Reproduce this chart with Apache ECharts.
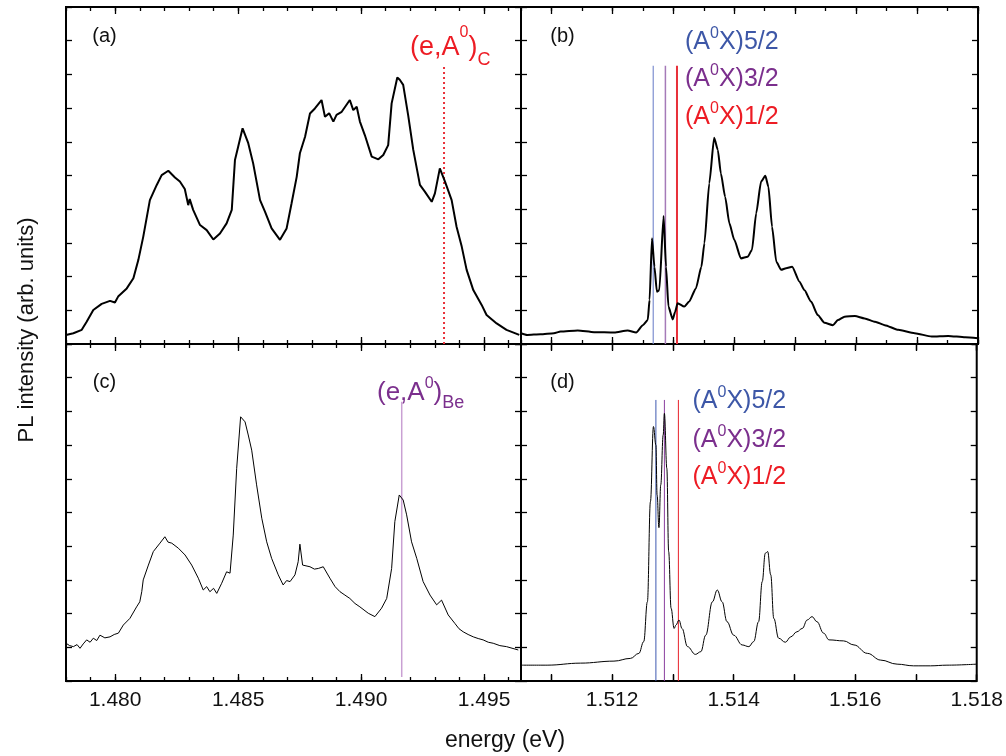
<!DOCTYPE html>
<html><head><meta charset="utf-8">
<script src="https://cdn.jsdelivr.net/npm/echarts@6/dist/echarts.min.js"></script>
<style>html,body{margin:0;padding:0;background:#fff}#c{width:1006px;height:756px}</style>
</head><body><div id="c"></div>
<script>
// ---------- data ----------
const aEnergy = [1.47800,1.47830,1.47864,1.47884,1.47911,1.47945,1.47979,1.47999,1.48013,1.48047,1.48074,1.48094,1.48114,1.48141,1.48169,1.48189,1.48216,1.48243,1.48263,1.48283,1.48297,1.48303,1.48317,1.48345,1.48372,1.48399,1.48426,1.48453,1.48474,1.48487,1.48500,1.48518,1.48541,1.48561,1.48589,1.48609,1.48636,1.48670,1.48697,1.48717,1.48738,1.48751,1.48772,1.48792,1.48812,1.48839,1.48853,1.48870,1.48887,1.48900,1.48921,1.48954,1.48968,1.48982,1.48995,1.49015,1.49043,1.49070,1.49090,1.49110,1.49124,1.49147,1.49157,1.49171,1.49191,1.49212,1.49239,1.49259,1.49287,1.49300,1.49320,1.49341,1.49368,1.49388,1.49409,1.49429,1.49456,1.49490,1.49510,1.49551,1.49591,1.49643];
const aIntensity = [0.27,0.32,0.42,0.66,1.01,1.19,1.28,1.23,1.42,1.65,1.95,2.49,3.18,4.27,4.72,5.01,5.14,4.94,4.82,4.60,4.12,4.30,3.98,3.53,3.38,3.10,3.28,3.58,3.98,5.46,5.85,6.40,5.96,5.36,4.27,3.93,3.43,3.09,3.43,4.17,4.96,5.66,6.15,6.84,6.99,7.24,6.74,6.85,6.60,6.80,6.89,7.24,6.94,7.04,6.60,6.20,5.56,5.48,5.61,5.90,7.14,7.91,7.84,7.69,6.80,5.76,4.72,4.52,4.22,4.47,5.21,4.82,4.27,3.48,2.89,2.20,1.60,1.16,0.86,0.61,0.42,0.27];

const bEnergy = [1.51050,1.51060,1.51082,1.51104,1.51115,1.51143,1.51170,1.51203,1.51225,1.51239,1.51250,1.51258,1.51261,1.51265,1.51269,1.51273,1.51277,1.51284,1.51288,1.51292,1.51299,1.51303,1.51307,1.51318,1.51326,1.51337,1.51346,1.51351,1.51359,1.51367,1.51373,1.51378,1.51385,1.51392,1.51400,1.51411,1.51422,1.51429,1.51436,1.51444,1.51451,1.51456,1.51462,1.51469,1.51477,1.51485,1.51495,1.51507,1.51515,1.51526,1.51537,1.51548,1.51562,1.51570,1.51581,1.51598,1.51614,1.51631,1.51647,1.51669,1.51696,1.51724,1.51751,1.51779,1.51800];
const bIntensity = [0.32,0.27,0.29,0.32,0.37,0.40,0.35,0.34,0.40,0.34,0.56,0.71,1.31,3.14,2.29,1.55,1.60,3.80,2.29,1.11,0.73,0.96,1.21,1.11,1.26,1.65,2.29,2.99,4.77,6.12,5.76,5.06,4.37,3.58,3.09,2.54,2.59,2.79,3.88,4.82,4.99,4.67,3.48,2.44,2.20,2.25,2.29,1.85,1.60,1.26,0.86,0.63,0.56,0.71,0.81,0.83,0.76,0.66,0.56,0.42,0.32,0.22,0.24,0.20,0.17];

const cEnergy = [1.47800,1.47815,1.47830,1.47845,1.47857,1.47870,1.47884,1.47898,1.47911,1.47925,1.47938,1.47958,1.47979,1.47996,1.48013,1.48033,1.48060,1.48087,1.48100,1.48108,1.48114,1.48135,1.48155,1.48182,1.48202,1.48215,1.48230,1.48257,1.48284,1.48311,1.48338,1.48358,1.48372,1.48385,1.48400,1.48413,1.48433,1.48453,1.48467,1.48480,1.48494,1.48510,1.48528,1.48541,1.48555,1.48575,1.48596,1.48616,1.48636,1.48663,1.48683,1.48697,1.48711,1.48731,1.48744,1.48751,1.48762,1.48792,1.48810,1.48826,1.48846,1.48873,1.48894,1.48914,1.48934,1.48954,1.48975,1.48995,1.49029,1.49056,1.49083,1.49104,1.49124,1.49137,1.49155,1.49171,1.49185,1.49205,1.49226,1.49252,1.49280,1.49307,1.49327,1.49354,1.49381,1.49398,1.49415,1.49435,1.49456,1.49476,1.49496,1.49517,1.49537,1.49564,1.49591,1.49639];
const cIntensity = [1.12,1.05,1.02,1.08,0.97,1.10,1.22,1.15,1.27,1.20,1.36,1.28,1.31,1.38,1.42,1.66,1.86,2.20,2.35,2.65,3.00,3.44,3.84,4.09,4.28,4.12,4.09,3.94,3.74,3.44,3.05,2.70,2.80,2.65,2.75,2.60,2.90,3.24,3.20,4.33,6.31,7.84,7.69,7.30,6.85,5.82,4.83,4.13,3.64,3.15,2.85,2.98,2.95,3.15,3.54,4.06,3.44,3.39,3.32,3.34,3.39,3.05,2.80,2.65,2.55,2.45,2.30,2.20,2.01,1.91,2.16,2.45,3.34,4.73,5.52,5.37,4.93,4.13,3.64,2.95,2.55,2.26,2.40,1.96,1.71,1.55,1.46,1.38,1.31,1.26,1.22,1.15,1.12,1.05,1.02,0.92];

const dEnergy = [1.51050,1.51093,1.51148,1.51203,1.51230,1.51244,1.51252,1.51258,1.51263,1.51268,1.51272,1.51274,1.51277,1.51280,1.51284,1.51286,1.51290,1.51293,1.51297,1.51302,1.51305,1.51310,1.51315,1.51324,1.51337,1.51346,1.51354,1.51365,1.51373,1.51381,1.51389,1.51400,1.51414,1.51425,1.51433,1.51441,1.51447,1.51452,1.51456,1.51461,1.51466,1.51474,1.51485,1.51494,1.51504,1.51513,1.51521,1.51529,1.51537,1.51548,1.51557,1.51581,1.51598,1.51620,1.51642,1.51669,1.51696,1.51724,1.51751,1.51800];
const dIntensity = [0.47,0.47,0.53,0.59,0.67,0.82,1.17,2.35,5.32,7.55,7.00,5.52,4.55,5.82,7.30,7.94,6.31,3.84,2.16,1.56,1.66,1.81,1.56,1.02,0.79,0.87,1.36,2.35,2.70,2.35,1.76,1.36,1.07,1.02,1.17,1.76,2.95,3.79,3.84,3.15,1.86,1.27,1.15,1.31,1.46,1.56,1.81,1.91,1.76,1.42,1.22,1.19,1.07,0.82,0.62,0.50,0.45,0.45,0.47,0.50];

// marker lines
const aCarbonEnergy = 1.49337, aCarbonTop = 8.23;
const cBerylliumEnergy = 1.49165, cBerylliumTop = 8.29, cBerylliumBottom = 0.12;
const bLineEnergies = [1.51267, 1.51287, 1.51306], bLineTop = 8.26;
const dLineEnergies = [1.51272, 1.51286, 1.51309], dLineTop = 8.34;
const lineLabels = ['5/2', '3/2', '1/2'];

// axes
const leftRange = [1.478, 1.4965];
const rightRange = [1.5105, 1.518];
const leftTickLabels = [1.480, 1.485, 1.490, 1.495];
const rightTickLabels = [1.512, 1.514, 1.516, 1.518];
const yRange = [0, 10];

// ---------- build ----------
const FONT = '"Liberation Sans", Arial, Helvetica, sans-serif';
function steps(a, b, s) {
  const out = []; const n = Math.round((b - a) / s);
  for (let k = 0; k <= n; k++) out.push(Math.round((a + k * s) * 1e6) / 1e6);
  return out;
}
const leftMinor = steps(1.478, 1.496, 0.001);
const leftMajor = steps(1.480, 1.495, 0.005);
const bMinor = steps(1.5105, 1.518, 0.0005);
const bMajor = steps(1.511, 1.518, 0.001);
const dTicks = steps(1.511, 1.518, 0.001);

const grids = [
  {left: 66, top: 7, width: 455, height: 337},
  {left: 521, top: 7, width: 457, height: 337},
  {left: 66, top: 344, width: 455, height: 337},
  {left: 521, top: 344, width: 457, height: 337}
].map(g => Object.assign(g, {show: true, borderColor: '#000', borderWidth: 2, backgroundColor: 'transparent'}));

const xAxes = [];
const yAxes = [];
const mainX = [], mainY = [];
function xAx(g, range, pos, ticks, len, labels) {
  xAxes.push({
    type: 'value', gridIndex: g, min: range[0], max: range[1], position: pos,
    axisLine: {show: false}, splitLine: {show: false},
    axisTick: {show: true, inside: true, length: len, customValues: ticks, lineStyle: {color: '#000', width: 1.3}},
    axisLabel: labels ? {show: true, customValues: labels, formatter: v => v.toFixed(3), fontSize: 21, color: '#111', margin: 9, fontFamily: FONT} : {show: false}
  });
  return xAxes.length - 1;
}
function yAx(g, pos) {
  yAxes.push({
    type: 'value', gridIndex: g, min: yRange[0], max: yRange[1], interval: 1, position: pos,
    axisLine: {show: false}, splitLine: {show: false}, axisLabel: {show: false},
    axisTick: {show: true, inside: true, length: 6, lineStyle: {color: '#000', width: 1.3}}
  });
  return yAxes.length - 1;
}
const panelCfg = [
  {range: leftRange, minor: leftMinor, major: leftMajor, labels: null},
  {range: rightRange, minor: bMinor, major: bMajor, labels: null},
  {range: leftRange, minor: leftMinor, major: leftMajor, labels: leftTickLabels},
  {range: rightRange, minor: dTicks, major: dTicks, labels: rightTickLabels}
];
panelCfg.forEach((p, g) => {
  const minorLen = g === 3 ? 6 : 4;
  mainX[g] = xAx(g, p.range, 'bottom', p.major, 7, p.labels);
  xAx(g, p.range, 'bottom', p.minor, minorLen, null);
  xAx(g, p.range, 'top', p.major, 7, null);
  xAx(g, p.range, 'top', p.minor, minorLen, null);
  mainY[g] = yAx(g, 'left');
  yAx(g, 'right');
});

function zip(xs, ys) { return xs.map((x, i) => [x, ys[i]]); }
function curve(g, xs, ys, w, smooth) {
  return {type: 'line', xAxisIndex: mainX[g], yAxisIndex: mainY[g], data: zip(xs, ys),
    showSymbol: false, symbol: 'none', smooth: smooth || false, smoothMonotone: 'x', clip: true, z: 3,
    lineStyle: {color: '#000', width: w}, silent: true};
}
function vline(g, e, y0, y1, color, w, type) {
  return {type: 'line', xAxisIndex: mainX[g], yAxisIndex: mainY[g], data: [[e, y0], [e, y1]],
    showSymbol: false, symbol: 'none', z: 2, silent: true,
    lineStyle: {color: color, width: w, type: type || 'solid'}};
}

const series = [
  vline(0, aCarbonEnergy, 0, aCarbonTop, '#e8323a', 2, [2, 3]),
  curve(0, aEnergy, aIntensity, 2),
  vline(1, bLineEnergies[0], 0, bLineTop, '#7d8fd0', 1.2),
  vline(1, bLineEnergies[1], 0, bLineTop, '#a57ab8', 1.5),
  vline(1, bLineEnergies[2], 0, bLineTop, '#e8303a', 2),
  curve(1, bEnergy, bIntensity, 2, 0.2),
  vline(2, cBerylliumEnergy, cBerylliumBottom, cBerylliumTop, '#c9a0d3', 1.5),
  curve(2, cEnergy, cIntensity, 1),
  vline(3, dLineEnergies[0], 0, dLineTop, '#3f5ab0', 1),
  vline(3, dLineEnergies[1], 0, dLineTop, '#8a3f9e', 1),
  vline(3, dLineEnergies[2], 0, dLineTop, '#e8202a', 1),
  curve(3, dEnergy, dIntensity, 1, 0.4)
];

// ---------- texts ----------
function richLabel(x, y, parts, color, size, supPad, subPad) {
  let txt = '{m|' + parts[0] + '}{p|' + parts[1] + '}{m|' + parts[2] + '}';
  if (parts[3]) txt += '{b|' + parts[3] + '}';
  return {type: 'text', x: x, y: y, z: 100, silent: true,
    style: {text: txt, textAlign: 'left', textVerticalAlign: 'middle', fontFamily: FONT,
      rich: {
        m: {fontSize: size, fill: color, color: color, fontFamily: FONT, lineHeight: size + 4},
        p: {fontSize: 16, fill: color, color: color, fontFamily: FONT, lineHeight: 16, padding: [0, 0, supPad, 0]},
        b: {fontSize: 18, fill: color, color: color, fontFamily: FONT, lineHeight: 18, padding: [subPad, 0, 0, 0]}
      }}};
}
function plain(x, y, t, size, rot) {
  return {type: 'text', x: x, y: y, rotation: rot || 0, z: 100, silent: true,
    style: {text: t, fill: '#111', fontSize: size, fontFamily: FONT, textAlign: 'center', textVerticalAlign: 'middle'}};
}
const BLUE = '#3d57a7', PURPLE = '#7b2f8d', RED = '#ed1c24';
const graphics = [
  plain(104.5, 36.5, '(a)', 20), plain(562.5, 36.5, '(b)', 20),
  plain(104.5, 382.5, '(c)', 20), plain(562.5, 382.5, '(d)', 20),
  plain(27, 330, 'PL intensity (arb. units)', 22, Math.PI / 2),
  plain(505, 741, 'energy (eV)', 23),
  richLabel(410, 47.5, ['(e,A', '0', ')', 'C'], RED, 27, 30, 25),
  richLabel(377, 392.5, ['(e,A', '0', ')', 'Be'], PURPLE, 26, 17, 22),
  richLabel(685, 42.5, ['(A', '0', 'X)' + lineLabels[0], ''], BLUE, 25, 17, 0),
  richLabel(685, 79, ['(A', '0', 'X)' + lineLabels[1], ''], PURPLE, 25, 17, 0),
  richLabel(685, 117.5, ['(A', '0', 'X)' + lineLabels[2], ''], RED, 25, 17, 0),
  richLabel(692.5, 401, ['(A', '0', 'X)' + lineLabels[0], ''], BLUE, 25, 17, 0),
  richLabel(692.5, 440, ['(A', '0', 'X)' + lineLabels[1], ''], PURPLE, 25, 17, 0),
  richLabel(692.5, 477.5, ['(A', '0', 'X)' + lineLabels[2], ''], RED, 25, 17, 0)
];

const chart = echarts.init(document.getElementById('c'), null, {renderer: 'canvas'});
chart.setOption({
  animation: false,
  backgroundColor: '#fff',
  grid: grids,
  xAxis: xAxes,
  yAxis: yAxes,
  series: series,
  graphic: graphics
});
</script></body></html>
